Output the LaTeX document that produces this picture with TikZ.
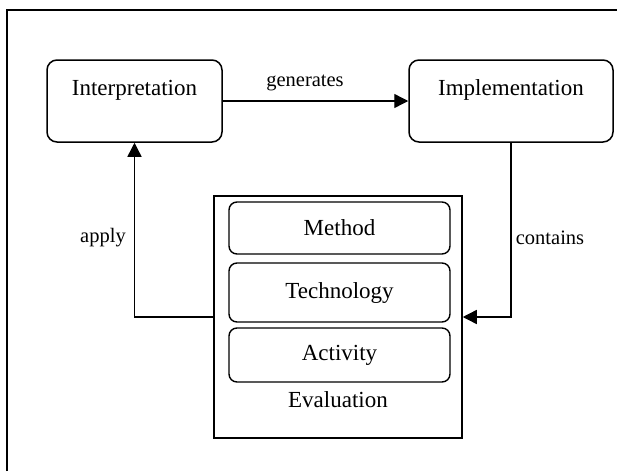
\documentclass[tikz,border=0pt]{standalone}
\usepackage{fontspec}
\setmainfont{Liberation Serif}
\usetikzlibrary{arrows.meta}
\tikzset{
  bigbox/.style={draw, line width=1.5pt, rounded corners=10pt, inner sep=0pt},
  innerbox/.style={draw, line width=1.4pt, rounded corners=8pt, inner sep=0pt, minimum width=221pt,
     font=\fontsize{23}{27}\selectfont},
  evalbox/.style={draw, line width=1.5pt, inner sep=0pt, minimum width=248pt, minimum height=242pt},
  boxtext/.style={font=\fontsize{23}{27}\selectfont},
  edgetext/.style={font=\fontsize{20.5}{24}\selectfont},
  conn/.style={line width=1.4pt},
  arr/.style={conn, -{Triangle[length=14pt,width=14pt]}},
  frame/.style={line width=1.4pt}
}
\begin{document}
\begin{tikzpicture}[x=1pt,y=-1pt]
\useasboundingbox (0,0) rectangle (617,471);
\draw[frame] (7,471) -- (7,10) -- (617,10);
\node[bigbox, minimum width=175pt, minimum height=82pt,
  label={[boxtext, yshift=11pt]center:Interpretation}] (interp) at (134.5,101) {};
\node[bigbox, minimum width=204pt, minimum height=82pt,
  label={[boxtext, yshift=11pt]center:Implementation}] (impl) at (511,101) {};
\node[evalbox] (eval) at (338,317) {};
\node[innerbox, minimum height=52pt] (method) at (339.5,228) {Method};
\node[innerbox, minimum height=59pt] (tech) at (339.5,292.5) {Technology};
\node[innerbox, minimum height=54pt] (act) at (339.5,355) {Activity};
\node[boxtext] (evallabel) at (338,400) {Evaluation};
\draw[arr] (interp.east) -- (impl.west);
\node[edgetext] (gen) at (305,83) {generates};
\draw[arr] (eval.west) -| (interp.south);
\node[edgetext] (apply) at (103,238) {apply};
\draw[arr] (impl.south) |- (eval.east);
\node[edgetext] (contains) at (550,238) {contains};
\end{tikzpicture}
\end{document}
